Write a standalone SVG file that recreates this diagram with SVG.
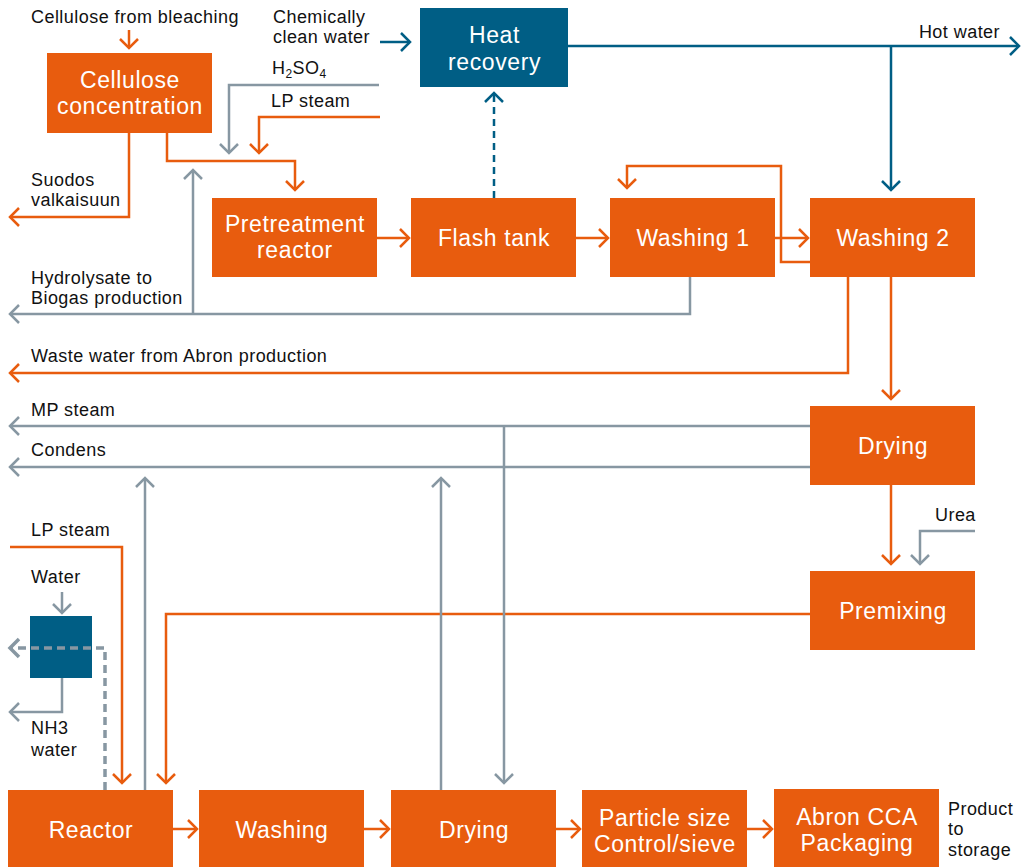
<svg xmlns="http://www.w3.org/2000/svg" width="1027" height="867" viewBox="0 0 1027 867">
<style>
.box{fill:#E85C0E}
.blue{fill:#005E85}
.nt{font-family:"Liberation Sans",Arial,sans-serif;font-size:23px;fill:#fff;text-anchor:middle;letter-spacing:0.6px}
.lb{font-family:"Liberation Sans",Arial,sans-serif;font-size:18px;fill:#111;letter-spacing:0.45px}
.o{stroke:#E85C0E;stroke-width:2.5;fill:none;marker-end:url(#ao)}
.g{stroke:#8797A2;stroke-width:2.5;fill:none;marker-end:url(#ag)}
.b{stroke:#005E85;stroke-width:2.5;fill:none;marker-end:url(#ab)}
</style>
<defs>
<marker id="ao" markerUnits="userSpaceOnUse" orient="auto" markerWidth="24" markerHeight="24" refX="0" refY="0" viewBox="-12 -12 24 24" overflow="visible"><path d="M-9,-9 L0,0 L-9,9" fill="none" stroke="#E85C0E" stroke-width="2.5"/></marker>
<marker id="ag" markerUnits="userSpaceOnUse" orient="auto" markerWidth="24" markerHeight="24" refX="0" refY="0" viewBox="-12 -12 24 24" overflow="visible"><path d="M-9,-9 L0,0 L-9,9" fill="none" stroke="#8797A2" stroke-width="2.5"/></marker>
<marker id="agd" markerUnits="userSpaceOnUse" orient="auto" markerWidth="24" markerHeight="24" refX="0" refY="0" viewBox="-12 -12 24 24" overflow="visible"><path d="M-9,-9 L0,0 L-9,9" fill="none" stroke="#8797A2" stroke-width="3.5"/></marker>
<marker id="ab" markerUnits="userSpaceOnUse" orient="auto" markerWidth="24" markerHeight="24" refX="0" refY="0" viewBox="-12 -12 24 24" overflow="visible"><path d="M-9,-9 L0,0 L-9,9" fill="none" stroke="#005E85" stroke-width="2.5"/></marker>
</defs>
<rect width="1027" height="867" fill="#fff"/>

<g id="nodes">
<g id="cellulose-concentration"><rect class="box" x="47" y="53" width="165" height="80"/><text class="nt" x="130" y="88">Cellulose</text><text class="nt" x="130" y="114">concentration</text></g>
<g id="heat-recovery"><rect class="blue" x="420" y="8" width="148" height="79"/><text class="nt" x="494.5" y="43">Heat</text><text class="nt" x="494.5" y="70">recovery</text></g>
<g id="pretreatment-reactor"><rect class="box" x="212" y="198" width="165" height="79"/><text class="nt" x="295" y="232">Pretreatment</text><text class="nt" x="295" y="258">reactor</text></g>
<g id="flash-tank"><rect class="box" x="411" y="198" width="165" height="79"/><text class="nt" x="494" y="246">Flash tank</text></g>
<g id="washing-1"><rect class="box" x="610" y="198" width="165" height="79"/><text class="nt" x="693" y="246">Washing 1</text></g>
<g id="washing-2"><rect class="box" x="810" y="198" width="165" height="79"/><text class="nt" x="893" y="246">Washing 2</text></g>
<g id="drying-1"><rect class="box" x="810" y="406" width="165" height="79"/><text class="nt" x="893" y="454">Drying</text></g>
<g id="premixing"><rect class="box" x="810" y="571" width="165" height="79"/><text class="nt" x="893" y="619">Premixing</text></g>
<g id="nh3-absorber"><rect class="blue" x="30" y="616" width="62" height="62"/></g>
<g id="reactor"><rect class="box" x="8" y="790" width="165" height="77"/><text class="nt" x="91" y="838">Reactor</text></g>
<g id="washing"><rect class="box" x="199" y="790" width="165" height="77"/><text class="nt" x="282" y="838">Washing</text></g>
<g id="drying-2"><rect class="box" x="391" y="790" width="165" height="77"/><text class="nt" x="474" y="838">Drying</text></g>
<g id="particle-size"><rect class="box" x="582" y="790" width="165" height="77"/><text class="nt" x="665" y="826">Particle size</text><text class="nt" x="665" y="852">Control/sieve</text></g>
<g id="packaging"><rect class="box" x="774" y="789" width="165" height="78"/><text class="nt" x="857" y="825">Abron CCA</text><text class="nt" x="857" y="851">Packaging</text></g>
</g>

<g id="connectors">
<path class="o" d="M129,30 V48"/>
<path class="o" d="M167,133 V161 H295 V190"/>
<path class="o" d="M129,133 V217 H10"/>
<path class="o" d="M380,117 H259 V153"/>
<path class="o" d="M377,238 H409"/>
<path class="o" d="M576,238 H608"/>
<path class="o" d="M775,238 H808"/>
<path class="o" d="M810,262 H781 V166 H627 V188"/>
<path class="o" d="M891,277 V399"/>
<path class="o" d="M848,277 V373 H10"/>
<path class="o" d="M891,485 V564"/>
<path class="o" d="M810,614 H166 V783"/>
<path class="o" d="M10,547 H122 V783"/>
<path class="o" d="M173,829 H197"/>
<path class="o" d="M364,829 H389"/>
<path class="o" d="M556,829 H580"/>
<path class="o" d="M747,829 H772"/>
<path class="g" d="M379,85 H229 V153"/>
<path class="g" d="M690,277 V314 H10"/>
<path class="g" d="M193,314 V170"/>
<path class="g" d="M810,426 H10"/>
<path class="g" d="M504,426 V783"/>
<path class="g" d="M810,467 H10"/>
<path class="g" d="M145,790 V478"/>
<path class="g" d="M441,790 V478"/>
<path class="g" d="M975,531 H920 V564"/>
<path class="g" d="M62,592 V613"/>
<path class="g" d="M62,678 V712 H10"/>
<path d="M105,790 V648 H10" fill="none" stroke="#8797A2" stroke-width="3.5" stroke-dasharray="8,5" marker-end="url(#agd)"/>
<path class="b" d="M380,42 H410"/>
<path class="b" d="M568,46 H1019"/>
<path class="b" d="M891,46 V190"/>
<path d="M494,198 V93" fill="none" stroke="#005E85" stroke-width="2.5" stroke-dasharray="7,5" marker-end="url(#ab)"/>
</g>

<g id="labels">
<text class="lb" x="31" y="23">Cellulose from bleaching</text>
<text class="lb" x="273" y="23">Chemically</text>
<text class="lb" x="273" y="43">clean water</text>
<text class="lb" x="272" y="74">H<tspan font-size="12" dy="4">2</tspan><tspan dy="-4">SO</tspan><tspan font-size="12" dy="4">4</tspan></text>
<text class="lb" x="271" y="107">LP steam</text>
<text class="lb" x="1000" y="38" text-anchor="end">Hot water</text>
<text class="lb" x="31" y="186">Suodos</text>
<text class="lb" x="31" y="206">valkaisuun</text>
<text class="lb" x="31" y="284">Hydrolysate to</text>
<text class="lb" x="31" y="304">Biogas production</text>
<text class="lb" x="31" y="362">Waste water from Abron production</text>
<text class="lb" x="31" y="416">MP steam</text>
<text class="lb" x="31" y="456">Condens</text>
<text class="lb" x="31" y="536">LP steam</text>
<text class="lb" x="31" y="583">Water</text>
<text class="lb" x="31" y="734">NH3</text>
<text class="lb" x="31" y="756">water</text>
<text class="lb" x="935" y="521">Urea</text>
<text class="lb" x="948" y="815">Product</text>
<text class="lb" x="948" y="835">to</text>
<text class="lb" x="948" y="856">storage</text>
</g>
</svg>
